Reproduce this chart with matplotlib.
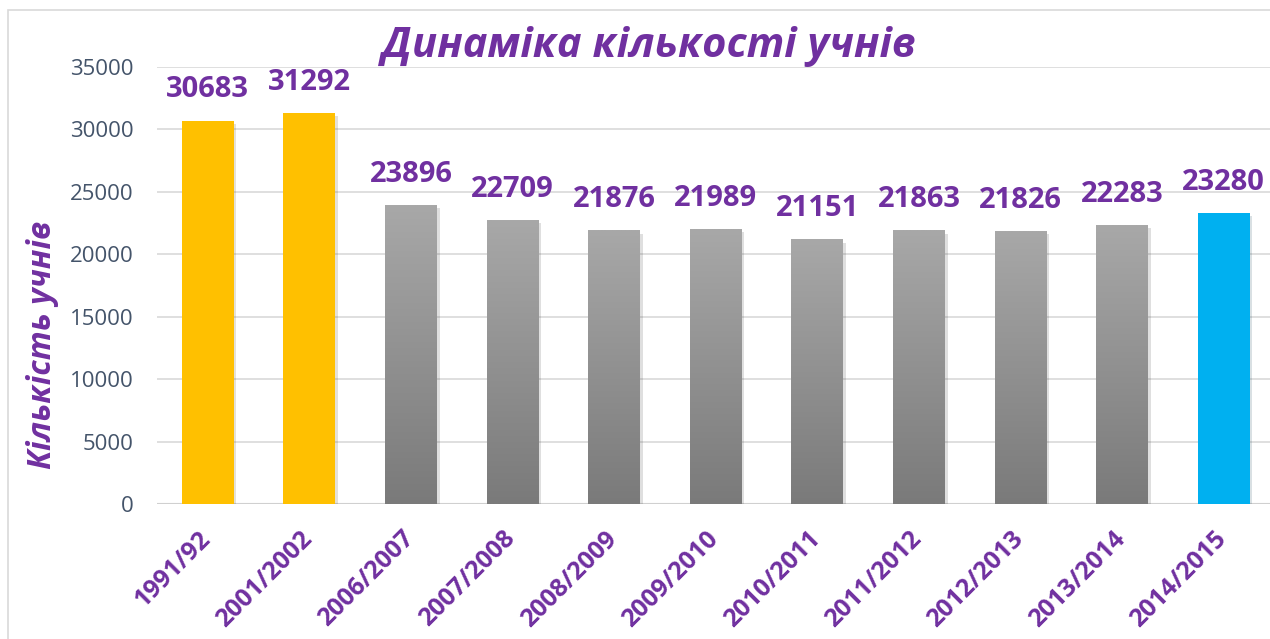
import numpy as np
import matplotlib.pyplot as plt
import matplotlib.patheffects as pe
from matplotlib.colors import LinearSegmentedColormap
from matplotlib.patches import Rectangle
from matplotlib.transforms import ScaledTranslation

plt.rcParams['font.family'] = ['Open Sans', 'DejaVu Sans']

# дані
years = ['1991/92', '2001/2002', '2006/2007', '2007/2008', '2008/2009', '2009/2010',
         '2010/2011', '2011/2012', '2012/2013', '2013/2014', '2014/2015']
pupils = [30683, 31292, 23896, 22709, 21876, 21989, 21151, 21863, 21826, 22283, 23280]
kind = ['old', 'old', 'mid', 'mid', 'mid', 'mid', 'mid', 'mid', 'mid', 'mid', 'new']

purple = '#7030A0'
colors = {'old': '#FFC000', 'mid': '#999999', 'new': '#00B0F0'}
grey_cmap = LinearSegmentedColormap.from_list('g', ['#7A7A7A', '#A8A8A8'])

fig = plt.figure(figsize=(12.7, 6.39), dpi=100)
ax = fig.add_axes([0.1236, 0.2113, 0.880, 0.684])

# рамка діаграми
fig.patches.append(Rectangle((8 / 1270, -0.1), 1.2, 1 - 10 / 639 + 0.1,
                             transform=fig.transFigure, fill=False,
                             edgecolor='#D9D9D9', lw=1.2))

x = np.arange(len(years))
bars = ax.bar(x, pupils, width=0.51, color=[colors[k] for k in kind], zorder=3,
              path_effects=[pe.SimplePatchShadow(offset=(2, -2), alpha=0.15), pe.Normal()])

grad = np.linspace(0, 1, 256).reshape(-1, 1)
for b, k in zip(bars, kind):
    if k == 'mid':
        ax.imshow(grad, extent=[b.get_x(), b.get_x() + b.get_width(), 0, b.get_height()],
                  origin='lower', aspect='auto', cmap=grey_cmap, zorder=4)

for xi, v in zip(x, pupils):
    ax.annotate(str(v), (xi, v), xytext=(0, 12), textcoords='offset points',
                ha='center', va='bottom', fontsize=21, fontweight='bold', color=purple)

ax.set_xlim(-0.5, 10.5)
ax.set_ylim(0, 35000)
ax.set_yticks(np.arange(0, 35001, 5000))
ax.yaxis.grid(True, color='#D9D9D9', lw=1.2, zorder=0)
ax.set_axisbelow(True)
for s in ax.spines.values():
    s.set_visible(False)
ax.axhline(0, color='#D0D0D0', lw=1.5, zorder=2)

ax.set_xticks(x)
ax.set_xticklabels(years, rotation=45, ha='right', fontsize=18, fontweight='bold', color=purple)
ax.tick_params(axis='x', length=0, pad=16)
shift = ScaledTranslation(0.08, 0, fig.dpi_scale_trans)
for lab in ax.get_xticklabels():
    lab.set_transform(lab.get_transform() + shift)
ax.tick_params(axis='y', length=0, pad=17, labelsize=16, labelcolor='#44546A')

ax.set_ylabel('Кількість учнів', fontsize=23, fontweight='bold', fontstyle='italic',
              color=purple)
ax.yaxis.set_label_coords(-0.088, 0.364)
fig.text(0.511, 0.928, 'Динаміка кількості учнів', ha='center', va='center',
         fontsize=30, fontweight='bold', fontstyle='italic', color=purple)

fig.savefig('out.png', dpi=100)
